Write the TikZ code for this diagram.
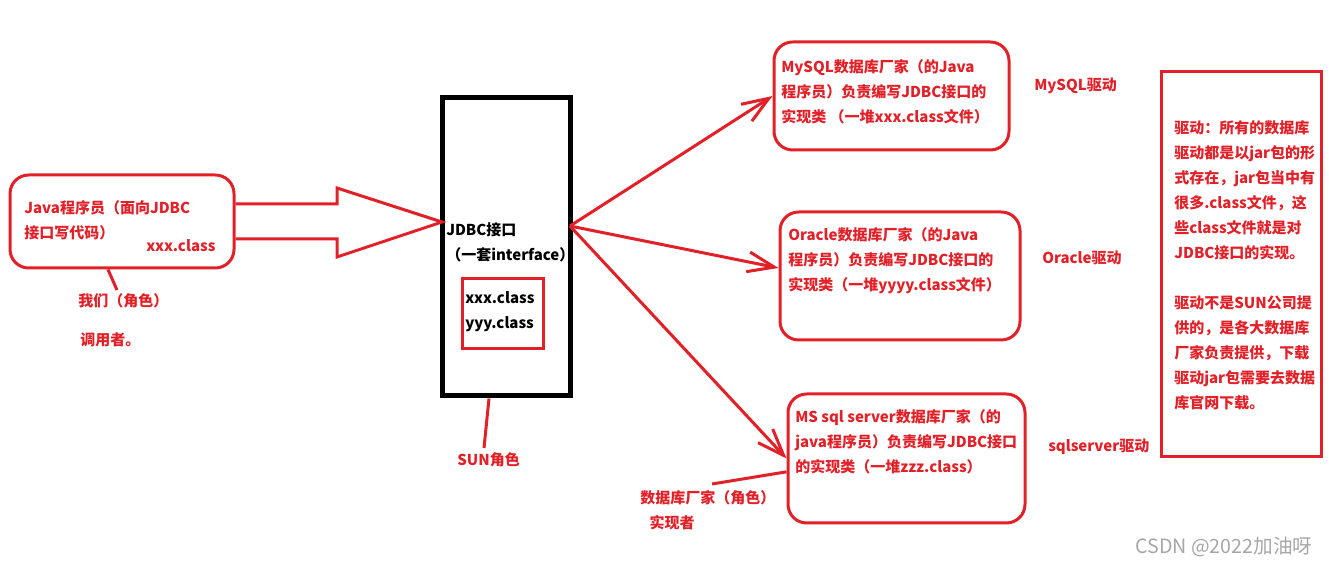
\documentclass[tikz,border=0pt]{standalone}
\usepackage{fontspec}
\setmainfont{Noto Sans CJK SC}
\usetikzlibrary{arrows.meta}
\definecolor{penred}{RGB}{225,32,40}
\tikzset{
  redbox/.style={draw=penred, line width=2.25pt, rounded corners=14pt, inner sep=0pt},
  sqbox/.style={draw=penred, line width=2.25pt, inner sep=0pt},
  redtxt/.style={text=penred, font=\fontsize{11.25pt}{18.75pt}\selectfont\bfseries, align=left, inner sep=0pt, anchor=north west},
  blktxt/.style={redtxt, text=black},
  redline/.style={draw=penred, line width=2.25pt},
  barb/.style={redline, -{Straight Barb[length=20pt,width=15pt]}},
}
\begin{document}
\begin{tikzpicture}[x=0.75pt, y=-0.75pt]
\useasboundingbox (0,0) rectangle (1329,566);

% boxes
\node[redbox, minimum width=168pt, minimum height=69.75pt] (us) at (122,221.5) {};
\node[draw=black, line width=3.75pt, inner sep=0pt, minimum width=96pt, minimum height=223.5pt] (jdbc) at (506,247) {};
\node[sqbox, minimum width=60.75pt, minimum height=52.5pt] (impl) at (502.5,314) {};
\node[redbox, minimum width=176.25pt, minimum height=81pt] (mysql) at (891.5,96) {};
\node[redbox, minimum width=180pt, minimum height=96pt] (oracle) at (900,276) {};
\node[redbox, minimum width=177.75pt, minimum height=96.75pt] (mssql) at (906.5,458.5) {};
\node[sqbox, minimum width=120pt, minimum height=288.75pt] (note) at (1241,264.5) {};

% texts in boxes
\node[redtxt] (ustxt) at (24,200) {Java程序员（面向JDBC\\接口写代码）};
\node[redtxt] (usclass) at (146,239) {xxx.class};
\node[blktxt] (jdbctxt) at (446,222) {JDBC接口\\ （一套interface）};
\node[blktxt] (impltxt) at (465,291) {xxx.class\\yyy.class};
\node[redtxt] (mysqltxt) at (781,59) {MySQL数据库厂家（的Java\\程序员）负责编写JDBC接口的\\实现类 （一堆xxx.class文件）};
\node[redtxt] (oracletxt) at (788,227) {Oracle数据库厂家（的Java\\程序员）负责编写JDBC接口的\\实现类（一堆yyyy.class文件）};
\node[redtxt] (mssqltxt) at (795,409) {MS sql server数据库厂家（的\\java程序员）负责编写JDBC接口\\的实现类（一堆zzz.class）};
\node[redtxt] (notetxt) at (1174,120) {驱动：所有的数据库\\驱动都是以jar包的形\\式存在，jar包当中有\\很多.class文件，这\\些class文件就是对\\JDBC接口的实现。\\[18.75pt]驱动不是SUN公司提\\供的，是各大数据库\\厂家负责提供，下载\\驱动jar包需要去数据\\库官网下载。};

% labels
\node[redtxt] (mysqldrv) at (1034,78) {MySQL驱动};
\node[redtxt] (oracledrv) at (1042,251) {Oracle驱动};
\node[redtxt] (mssqldrv) at (1048,439) {sqlserver驱动};
\node[redtxt] (role) at (78,293) {我们（角色）};
\node[redtxt] (caller) at (80,332) {调用者。};
\node[redtxt] (sun) at (457,452) {SUN角色};
\node[redtxt] (vendor) at (640,490) {数据库厂家（角色）\\ \ \ \,实现者};
\node[text=black!35, font=\fontsize{14.75pt}{16pt}\selectfont, inner sep=0pt, anchor=west] (mark) at (1135,547) {CSDN @2022加油呀};

% big hollow arrow
\draw[redline, line join=miter] (us.east |- 0,204) -- (337,204) -- (337,188) -- (442,222)
      -- (337,257) -- (337,239) -- (us.east |- 0,239);

% pointers
\coordinate (hub) at (570,226);
\draw[barb] (hub) -- (mysql.west);
\draw[barb] (hub) -- ([yshift=6pt]oracle.west);
\draw[barb] (hub) -- (mssql.west);
\draw[redline] (us.south -| 108,0) -- (117,290);
\draw[redline] (jdbc.south -| 489,0) -- (484,448);
\draw[redline] ([yshift=-10pt]mssql.west) -- (712,484);
\end{tikzpicture}
\end{document}
